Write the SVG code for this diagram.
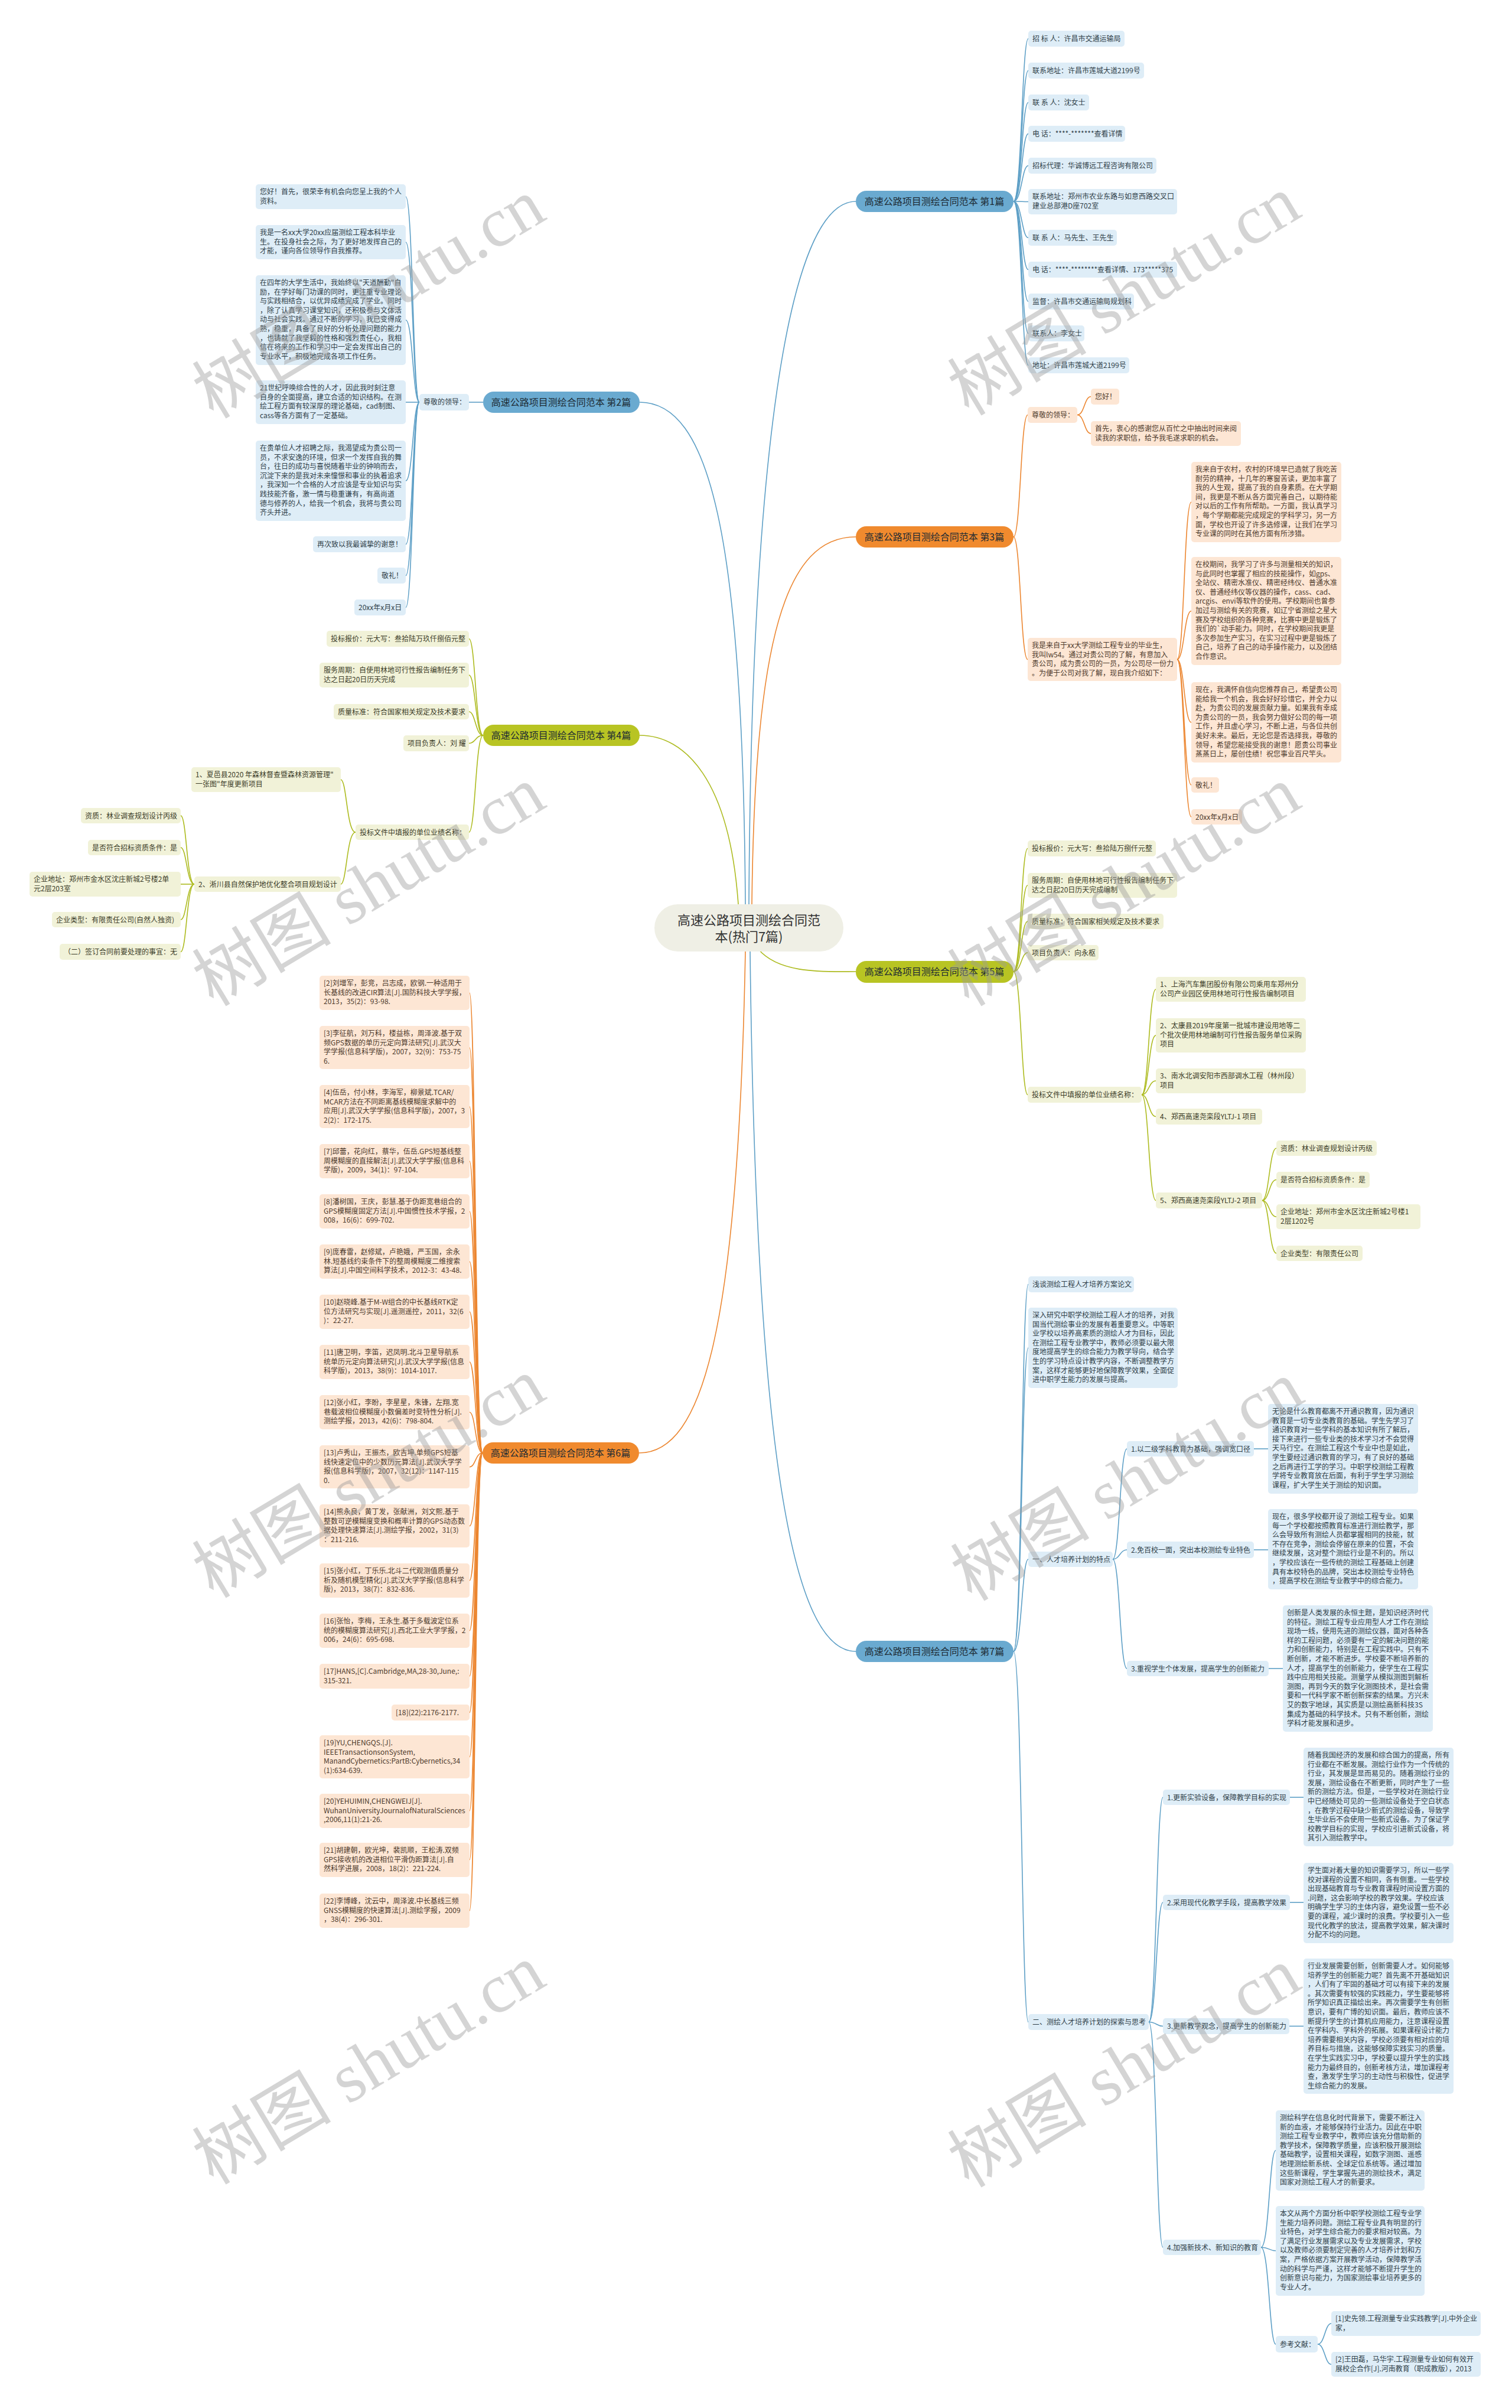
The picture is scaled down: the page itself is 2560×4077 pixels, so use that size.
<svg xmlns="http://www.w3.org/2000/svg" width="2560" height="4077" viewBox="0 0 2560 4077">
<style>
text{font-family:"Noto Sans CJK SC","Liberation Sans",sans-serif;font-size:12px;fill:#333}
.ct{font-size:22px;text-anchor:middle;fill:#333}
.lb{fill:#deedf7}.lo{fill:#fde6d4}.lg{fill:#f1f2d8}
.tb{fill:#2f3e48}.to{fill:#4d3a2c}.tg{fill:#3c3c28}
.mb{fill:#6aaad0}.mo{fill:#f08a2e}.mg{fill:#b8c423}
.mt{font-size:16px;text-anchor:middle;fill:#1d2a33}
.cb{stroke:#5d9fc6;fill:none;stroke-width:1.6}
.co{stroke:#ec8630;fill:none;stroke-width:1.6}
.cg{stroke:#adbb1f;fill:none;stroke-width:1.6}
.wm{font-family:"Liberation Serif","Noto Sans CJK SC",serif;font-size:118px;fill:#9a9a9a;opacity:.42;text-anchor:middle}
</style>
<rect width="2560" height="4077" fill="#ffffff"/>
<g id="connectors">
<path class="cb" d="M1268,1531 C1272,800 1330,341 1449,341"/>
<path class="cb" d="M1262,1531 C1258,900 1200,681 1083,681"/>
<path class="co" d="M1273,1531 C1278,1080 1330,909 1449,909"/>
<path class="cg" d="M1250,1531 C1235,1320 1160,1245 1083,1245"/>
<path class="cg" d="M1284,1607 C1320,1650 1400,1645 1449,1645"/>
<path class="co" d="M1262,1611 C1250,2250 1190,2460 1082,2460"/>
<path class="cb" d="M1270,1611 C1280,2450 1340,2796 1449,2796"/>
<path class="cb" d="M1716,341 C1730,341 1730,65.5 1741,65.5"/>
<path class="cb" d="M1716,341 C1730,341 1730,119.5 1741,119.5"/>
<path class="cb" d="M1716,341 C1730,341 1730,173.5 1741,173.5"/>
<path class="cb" d="M1716,341 C1730,341 1730,226.5 1741,226.5"/>
<path class="cb" d="M1716,341 C1730,341 1730,280.5 1741,280.5"/>
<path class="cb" d="M1716,341 C1730,341 1730,341.5 1741,341.5"/>
<path class="cb" d="M1716,341 C1730,341 1730,402.5 1741,402.5"/>
<path class="cb" d="M1716,341 C1730,341 1730,456.5 1741,456.5"/>
<path class="cb" d="M1716,341 C1730,341 1730,510.5 1741,510.5"/>
<path class="cb" d="M1716,341 C1730,341 1730,564.5 1741,564.5"/>
<path class="cb" d="M1716,341 C1730,341 1730,618.5 1741,618.5"/>
<path class="cb" d="M818,681 L794,681"/>
<path class="cb" d="M710,681 C699,681 699,333 687,333"/>
<path class="cb" d="M710,681 C699,681 699,410 687,410"/>
<path class="cb" d="M710,681 C699,681 699,542 687,542"/>
<path class="cb" d="M710,681 C699,681 699,681 687,681"/>
<path class="cb" d="M710,681 C699,681 699,814 687,814"/>
<path class="cb" d="M710,681 C699,681 699,921.5 687,921.5"/>
<path class="cb" d="M710,681 C699,681 699,974.5 687,974.5"/>
<path class="cb" d="M710,681 C699,681 699,1028.5 687,1028.5"/>
<path class="co" d="M1716,909 C1728,909 1728,702.5 1740,702.5"/>
<path class="co" d="M1716,909 C1728,909 1728,1116.5 1740,1116.5"/>
<path class="co" d="M1824,702.5 C1836,702.5 1836,671.5 1847,671.5"/>
<path class="co" d="M1824,702.5 C1836,702.5 1836,734 1847,734"/>
<path class="co" d="M1993,1116.5 C2005,1116.5 2005,850 2017,850"/>
<path class="co" d="M1993,1116.5 C2005,1116.5 2005,1034.5 2017,1034.5"/>
<path class="co" d="M1993,1116.5 C2005,1116.5 2005,1223 2017,1223"/>
<path class="co" d="M1993,1116.5 C2005,1116.5 2005,1329 2017,1329"/>
<path class="co" d="M1993,1116.5 C2005,1116.5 2005,1383 2017,1383"/>
<path class="cg" d="M818,1245 C805,1245 805,1081.5 794,1081.5"/>
<path class="cg" d="M818,1245 C805,1245 805,1143 794,1143"/>
<path class="cg" d="M818,1245 C805,1245 805,1205 794,1205"/>
<path class="cg" d="M818,1245 C805,1245 805,1258.5 794,1258.5"/>
<path class="cg" d="M818,1245 C805,1245 805,1409 794,1409"/>
<path class="cg" d="M602,1409 C587,1409 587,1320 577,1320"/>
<path class="cg" d="M602,1409 C587,1409 587,1497 577,1497"/>
<path class="cg" d="M329,1497 C316,1497 316,1381 306,1381"/>
<path class="cg" d="M329,1497 C316,1497 316,1435 306,1435"/>
<path class="cg" d="M329,1497 C316,1497 316,1497 306,1497"/>
<path class="cg" d="M329,1497 C316,1497 316,1557 306,1557"/>
<path class="cg" d="M329,1497 C316,1497 316,1611.5 306,1611.5"/>
<path class="cg" d="M1716,1645 C1729,1645 1729,1436.5 1740,1436.5"/>
<path class="cg" d="M1716,1645 C1729,1645 1729,1499 1740,1499"/>
<path class="cg" d="M1716,1645 C1729,1645 1729,1560 1740,1560"/>
<path class="cg" d="M1716,1645 C1729,1645 1729,1613 1740,1613"/>
<path class="cg" d="M1716,1645 C1729,1645 1729,1853.5 1740,1853.5"/>
<path class="cg" d="M1933,1853.5 C1945,1853.5 1945,1675 1957,1675"/>
<path class="cg" d="M1933,1853.5 C1945,1853.5 1945,1753 1957,1753"/>
<path class="cg" d="M1933,1853.5 C1945,1853.5 1945,1830 1957,1830"/>
<path class="cg" d="M1933,1853.5 C1945,1853.5 1945,1890.5 1957,1890.5"/>
<path class="cg" d="M1933,1853.5 C1945,1853.5 1945,2032.5 1957,2032.5"/>
<path class="cg" d="M2137,2032.5 C2149,2032.5 2149,1944 2161,1944"/>
<path class="cg" d="M2137,2032.5 C2149,2032.5 2149,1997.5 2161,1997.5"/>
<path class="cg" d="M2137,2032.5 C2149,2032.5 2149,2060 2161,2060"/>
<path class="cg" d="M2137,2032.5 C2149,2032.5 2149,2122 2161,2122"/>
<path class="co" d="M817,2460 C805,2460 805,1681 795,1681"/>
<path class="co" d="M817,2460 C805,2460 805,1773.7 795,1773.7"/>
<path class="co" d="M817,2460 C805,2460 805,1873.7 795,1873.7"/>
<path class="co" d="M817,2460 C805,2460 805,1966 795,1966"/>
<path class="co" d="M817,2460 C805,2460 805,2051 795,2051"/>
<path class="co" d="M817,2460 C805,2460 805,2136 795,2136"/>
<path class="co" d="M817,2460 C805,2460 805,2221 795,2221"/>
<path class="co" d="M817,2460 C805,2460 805,2306 795,2306"/>
<path class="co" d="M817,2460 C805,2460 805,2391 795,2391"/>
<path class="co" d="M817,2460 C805,2460 805,2483.7 795,2483.7"/>
<path class="co" d="M817,2460 C805,2460 805,2583.7 795,2583.7"/>
<path class="co" d="M817,2460 C805,2460 805,2676 795,2676"/>
<path class="co" d="M817,2460 C805,2460 805,2761 795,2761"/>
<path class="co" d="M817,2460 C805,2460 805,2838 795,2838"/>
<path class="co" d="M817,2460 C805,2460 805,2899.5 795,2899.5"/>
<path class="co" d="M817,2460 C805,2460 805,2974.7 795,2974.7"/>
<path class="co" d="M817,2460 C805,2460 805,3066 795,3066"/>
<path class="co" d="M817,2460 C805,2460 805,3149 795,3149"/>
<path class="co" d="M817,2460 C805,2460 805,3235 795,3235"/>
<path class="cb" d="M1716,2796 C1730,2796 1730,2174.5 1741,2174.5"/>
<path class="cb" d="M1716,2796 C1730,2796 1730,2282 1741,2282"/>
<path class="cb" d="M1716,2796 C1730,2796 1730,2640 1741,2640"/>
<path class="cb" d="M1716,2796 C1730,2796 1730,3423.5 1741,3423.5"/>
<path class="cb" d="M1884,2640 C1896,2640 1896,2453 1908,2453"/>
<path class="cb" d="M1884,2640 C1896,2640 1896,2624 1908,2624"/>
<path class="cb" d="M1884,2640 C1896,2640 1896,2825 1908,2825"/>
<path class="cb" d="M2123,2453 L2147,2453"/>
<path class="cb" d="M2123,2624 L2147,2624"/>
<path class="cb" d="M2148,2825 L2172,2825"/>
<path class="cb" d="M1945,3423.5 C1958,3423.5 1958,3043 1969,3043"/>
<path class="cb" d="M1945,3423.5 C1958,3423.5 1958,3221 1969,3221"/>
<path class="cb" d="M1945,3423.5 C1958,3423.5 1958,3430.5 1969,3430.5"/>
<path class="cb" d="M1945,3423.5 C1958,3423.5 1958,3805 1969,3805"/>
<path class="cb" d="M2184,3043 L2207,3043"/>
<path class="cb" d="M2184,3221 L2207,3221"/>
<path class="cb" d="M2183,3430.5 L2207,3430.5"/>
<path class="cb" d="M2135,3805 C2149,3805 2149,3641 2160,3641"/>
<path class="cb" d="M2135,3805 C2149,3805 2149,3810.7 2160,3810.7"/>
<path class="cb" d="M2135,3805 C2149,3805 2149,3969 2160,3969"/>
<path class="cb" d="M2231,3969 C2243,3969 2243,3934 2254,3934"/>
<path class="cb" d="M2231,3969 C2243,3969 2243,4003 2254,4003"/>
</g>

<g id="center"><rect x="1108" y="1531" width="320" height="80" rx="40" fill="#efefe5"/><text class="ct" x="1268" y="1566">高速公路项目测绘合同范</text><text class="ct" x="1268" y="1594">本(热门7篇)</text></g>

<g id="b1"><rect class="mb" x="1449" y="323" width="267" height="36" rx="18"/><text class="mt" x="1582" y="347">高速公路项目测绘合同范本 第1篇</text></g>
<g id="b1-1"><rect class="lb" x="1741" y="52" width="163" height="27" rx="5"/><text class="tb" x="1748" y="70">招 标 人：许昌市交通运输局</text></g>
<g id="b1-2"><rect class="lb" x="1741" y="106" width="196" height="27" rx="5"/><text class="tb" x="1748" y="124">联系地址：许昌市莲城大道2199号</text></g>
<g id="b1-3"><rect class="lb" x="1741" y="160" width="103" height="27" rx="5"/><text class="tb" x="1748" y="178">联 系 人：沈女士</text></g>
<g id="b1-4"><rect class="lb" x="1741" y="213" width="164" height="27" rx="5"/><text class="tb" x="1748" y="231">电 话：****-*******查看详情</text></g>
<g id="b1-5"><rect class="lb" x="1741" y="267" width="217" height="27" rx="5"/><text class="tb" x="1748" y="285">招标代理：华诚博远工程咨询有限公司</text></g>
<g id="b1-6"><rect class="lb" x="1741" y="320" width="252" height="43" rx="5"/><text class="tb" x="1748" y="337">联系地址：郑州市农业东路与如意西路交叉口<tspan x="1748" dy="15.6">建业总部港D座702室</tspan></text></g>
<g id="b1-7"><rect class="lb" x="1741" y="389" width="150" height="27" rx="5"/><text class="tb" x="1748" y="407">联 系 人：马先生、王先生</text></g>
<g id="b1-8"><rect class="lb" x="1741" y="443" width="252" height="27" rx="5"/><text class="tb" x="1748" y="461">电 话：****-********查看详情、173*****375</text></g>
<g id="b1-9"><rect class="lb" x="1741" y="497" width="179" height="27" rx="5"/><text class="tb" x="1748" y="515">监督：许昌市交通运输局规划科</text></g>
<g id="b1-10"><rect class="lb" x="1741" y="551" width="95" height="27" rx="5"/><text class="tb" x="1748" y="569">联系人：李女士</text></g>
<g id="b1-11"><rect class="lb" x="1741" y="605" width="171" height="27" rx="5"/><text class="tb" x="1748" y="623">地址：许昌市莲城大道2199号</text></g>

<g id="b2"><rect class="mb" x="818" y="663" width="265" height="36" rx="18"/><text class="mt" x="950" y="687">高速公路项目测绘合同范本 第2篇</text></g>
<g id="b2-0"><rect class="lb" x="710" y="667" width="84" height="28" rx="5"/><text class="tb" x="717" y="685">尊敬的领导：</text></g>
<g id="b2-1"><rect class="lb" x="433" y="312" width="254" height="42" rx="5"/><text class="tb" x="440" y="329">您好！首先，很荣幸有机会向您呈上我的个人<tspan x="440" dy="15.6">资料。</tspan></text></g>
<g id="b2-2"><rect class="lb" x="433" y="381" width="254" height="58" rx="5"/><text class="tb" x="440" y="398">我是一名xx大学20xx应届测绘工程本科毕业<tspan x="440" dy="15.6">生。在投身社会之际，为了更好地发挥自己的</tspan><tspan x="440" dy="15.6">才能，谨向各位领导作自我推荐。</tspan></text></g>
<g id="b2-3"><rect class="lb" x="433" y="466" width="254" height="152" rx="5"/><text class="tb" x="440" y="483">在四年的大学生活中，我始终以"天道酬勤"自<tspan x="440" dy="15.6">励，在学好每门功课的同时，更注重专业理论</tspan><tspan x="440" dy="15.6">与实践相结合，以优异成绩完成了学业。同时</tspan><tspan x="440" dy="15.6">，除了认真学习课堂知识，还积极参与文体活</tspan><tspan x="440" dy="15.6">动与社会实践。通过不断的学习，我已变得成</tspan><tspan x="440" dy="15.6">熟，稳重，具备了良好的分析处理问题的能力</tspan><tspan x="440" dy="15.6">，也铸就了我坚毅的性格和强烈责任心，我相</tspan><tspan x="440" dy="15.6">信在将来的工作和学习中一定会发挥出自己的</tspan><tspan x="440" dy="15.6">专业水平，积极地完成各项工作任务。</tspan></text></g>
<g id="b2-4"><rect class="lb" x="433" y="644" width="254" height="74" rx="5"/><text class="tb" x="440" y="661">21世纪呼唤综合性的人才，因此我时刻注意<tspan x="440" dy="15.6">自身的全面提高，建立合适的知识结构。在测</tspan><tspan x="440" dy="15.6">绘工程方面有较深厚的理论基础，cad制图、</tspan><tspan x="440" dy="15.6">cass等各方面有了一定基础。</tspan></text></g>
<g id="b2-5"><rect class="lb" x="433" y="746" width="254" height="136" rx="5"/><text class="tb" x="440" y="763">在贵单位人才招聘之际，我渴望成为贵公司一<tspan x="440" dy="15.6">员，不求安逸的环境，但求一个发挥自我的舞</tspan><tspan x="440" dy="15.6">台，往日的成功与喜悦随着毕业的钟响而去，</tspan><tspan x="440" dy="15.6">沉淀下来的是我对未来憧憬和事业的执着追求</tspan><tspan x="440" dy="15.6">，我深知一个合格的人才应该是专业知识与实</tspan><tspan x="440" dy="15.6">践技能齐备，激一情与稳重谦有，有高尚道</tspan><tspan x="440" dy="15.6">德与修养的人，给我一个机会，我将与贵公司</tspan><tspan x="440" dy="15.6">齐头并进。</tspan></text></g>
<g id="b2-6"><rect class="lb" x="530" y="908" width="157" height="27" rx="5"/><text class="tb" x="537" y="926">再次致以我最诚挚的谢意！</text></g>
<g id="b2-7"><rect class="lb" x="639" y="961" width="48" height="27" rx="5"/><text class="tb" x="646" y="979">敬礼！</text></g>
<g id="b2-8"><rect class="lb" x="600" y="1015" width="87" height="27" rx="5"/><text class="tb" x="607" y="1033">20xx年x月x日</text></g>

<g id="b3"><rect class="mo" x="1449" y="891" width="267" height="36" rx="18"/><text class="mt" x="1582" y="915">高速公路项目测绘合同范本 第3篇</text></g>
<g id="b3-1"><rect class="lo" x="1740" y="689" width="84" height="27" rx="5"/><text class="to" x="1747" y="707">尊敬的领导：</text></g>
<g id="b3-1-1"><rect class="lo" x="1847" y="658" width="48" height="27" rx="5"/><text class="to" x="1854" y="676">您好！</text></g>
<g id="b3-1-2"><rect class="lo" x="1847" y="713" width="254" height="42" rx="5"/><text class="to" x="1854" y="730">首先，衷心的感谢您从百忙之中抽出时间来阅<tspan x="1854" dy="15.6">读我的求职信，给予我毛遂求职的机会。</tspan></text></g>
<g id="b3-2"><rect class="lo" x="1740" y="1080" width="253" height="73" rx="5"/><text class="to" x="1747" y="1097">我是来自于xx大学测绘工程专业的毕业生，<tspan x="1747" dy="15.6">我叫lw54。通过对贵公司的了解，有意加入</tspan><tspan x="1747" dy="15.6">贵公司，成为贵公司的一员，为公司尽一份力</tspan><tspan x="1747" dy="15.6">。为便于公司对我了解，现自我介绍如下：</tspan></text></g>
<g id="b3-2-1"><rect class="lo" x="2017" y="782" width="254" height="136" rx="5"/><text class="to" x="2024" y="799">我来自于农村，农村的环境早已造就了我吃苦<tspan x="2024" dy="15.6">耐劳的精神，十几年的寒窗苦读，更加丰富了</tspan><tspan x="2024" dy="15.6">我的人生观，提高了我的自身素质。在大学期</tspan><tspan x="2024" dy="15.6">间，我更是不断从各方面完善自己，以期待能</tspan><tspan x="2024" dy="15.6">对以后的工作有所帮助。一方面，我认真学习</tspan><tspan x="2024" dy="15.6">，每个学期都能完成规定的学科学习，另一方</tspan><tspan x="2024" dy="15.6">面，学校也开设了许多选修课，让我们在学习</tspan><tspan x="2024" dy="15.6">专业课的同时在其他方面有所涉猎。</tspan></text></g>
<g id="b3-2-2"><rect class="lo" x="2017" y="943" width="254" height="183" rx="5"/><text class="to" x="2024" y="960">在校期间，我学习了许多与测量相关的知识，<tspan x="2024" dy="15.6">与此同时也掌握了相应的技能操作，如gps、</tspan><tspan x="2024" dy="15.6">全站仪、精密水准仪、精密经纬仪、普通水准</tspan><tspan x="2024" dy="15.6">仪、普通经纬仪等仪器的操作，cass、cad、</tspan><tspan x="2024" dy="15.6">arcgis、envi等软件的使用。学校期间也曾参</tspan><tspan x="2024" dy="15.6">加过与测绘有关的竞赛，如辽宁省测绘之星大</tspan><tspan x="2024" dy="15.6">赛及学校组织的各种竞赛，比赛中更是锻炼了</tspan><tspan x="2024" dy="15.6">我们的`动手能力。同时，在学校期间我更是</tspan><tspan x="2024" dy="15.6">多次参加生产实习，在实习过程中更是锻炼了</tspan><tspan x="2024" dy="15.6">自己，培养了自己的动手操作能力，以及团结</tspan><tspan x="2024" dy="15.6">合作意识。</tspan></text></g>
<g id="b3-2-3"><rect class="lo" x="2017" y="1155" width="254" height="136" rx="5"/><text class="to" x="2024" y="1172">现在，我满怀自信向您推荐自己，希望贵公司<tspan x="2024" dy="15.6">能给我一个机会，我会好好珍惜它，并全力以</tspan><tspan x="2024" dy="15.6">赴，为贵公司的发展贡献力量。如果我有幸成</tspan><tspan x="2024" dy="15.6">为贵公司的一员，我会努力做好公司的每一项</tspan><tspan x="2024" dy="15.6">工作，并且虚心学习，不断上进，与各位共创</tspan><tspan x="2024" dy="15.6">美好未来。最后，无论您是否选择我，尊敬的</tspan><tspan x="2024" dy="15.6">领导，希望您能接受我的谢意！愿贵公司事业</tspan><tspan x="2024" dy="15.6">蒸蒸日上，屡创佳绩！祝您事业百尺竿头。</tspan></text></g>
<g id="b3-2-4"><rect class="lo" x="2017" y="1316" width="47" height="26" rx="5"/><text class="to" x="2024" y="1334">敬礼！</text></g>
<g id="b3-2-5"><rect class="lo" x="2017" y="1370" width="86" height="26" rx="5"/><text class="to" x="2024" y="1388">20xx年x月x日</text></g>

<g id="b4"><rect class="mg" x="818" y="1227" width="265" height="36" rx="18"/><text class="mt" x="950" y="1251">高速公路项目测绘合同范本 第4篇</text></g>
<g id="b4-1"><rect class="lg" x="553" y="1068" width="241" height="27" rx="5"/><text class="tg" x="560" y="1086">投标报价：元大写：叁拾陆万玖仟捌佰元整</text></g>
<g id="b4-2"><rect class="lg" x="541" y="1122" width="253" height="42" rx="5"/><text class="tg" x="548" y="1139">服务周期：自使用林地可行性报告编制任务下<tspan x="548" dy="15.6">达之日起20日历天完成</tspan></text></g>
<g id="b4-3"><rect class="lg" x="565" y="1192" width="229" height="26" rx="5"/><text class="tg" x="572" y="1210">质量标准：符合国家相关规定及技术要求</text></g>
<g id="b4-4"><rect class="lg" x="683" y="1245" width="111" height="27" rx="5"/><text class="tg" x="690" y="1263">项目负责人：刘 耀</text></g>
<g id="b4-5"><rect class="lg" x="602" y="1396" width="192" height="26" rx="5"/><text class="tg" x="609" y="1414">投标文件中填报的单位业绩名称：</text></g>
<g id="b4-5-1"><rect class="lg" x="324" y="1299" width="253" height="42" rx="5"/><text class="tg" x="331" y="1316">1、夏邑县2020 年森林督查暨森林资源管理"<tspan x="331" dy="15.6">一张图"年度更新项目</tspan></text></g>
<g id="b4-5-2"><rect class="lg" x="329" y="1484" width="248" height="26" rx="5"/><text class="tg" x="336" y="1502">2、淅川县自然保护地优化整合项目规划设计</text></g>
<g id="b4-5-2-1"><rect class="lg" x="137" y="1368" width="169" height="26" rx="5"/><text class="tg" x="144" y="1386">资质：林业调查规划设计丙级</text></g>
<g id="b4-5-2-2"><rect class="lg" x="149" y="1422" width="157" height="26" rx="5"/><text class="tg" x="156" y="1440">是否符合招标资质条件：是</text></g>
<g id="b4-5-2-3"><rect class="lg" x="50" y="1476" width="256" height="42" rx="5"/><text class="tg" x="57" y="1493">企业地址：郑州市金水区沈庄新城2号楼2单<tspan x="57" dy="15.6">元2层203室</tspan></text></g>
<g id="b4-5-2-4"><rect class="lg" x="88" y="1544" width="218" height="26" rx="5"/><text class="tg" x="95" y="1562">企业类型：有限责任公司(自然人独资)</text></g>
<g id="b4-5-2-5"><rect class="lg" x="101" y="1598" width="205" height="27" rx="5"/><text class="tg" x="108" y="1616">（二）签订合同前要处理的事宜：无</text></g>

<g id="b5"><rect class="mg" x="1449" y="1627" width="267" height="37" rx="18"/><text class="mt" x="1582" y="1651">高速公路项目测绘合同范本 第5篇</text></g>
<g id="b5-1"><rect class="lg" x="1740" y="1423" width="217" height="27" rx="5"/><text class="tg" x="1747" y="1441">投标报价：元大写：叁拾陆万捌仟元整</text></g>
<g id="b5-2"><rect class="lg" x="1740" y="1478" width="253" height="42" rx="5"/><text class="tg" x="1747" y="1495">服务周期：自使用林地可行性报告编制任务下<tspan x="1747" dy="15.6">达之日起20日历天完成编制</tspan></text></g>
<g id="b5-3"><rect class="lg" x="1740" y="1547" width="230" height="26" rx="5"/><text class="tg" x="1747" y="1565">质量标准：符合国家相关规定及技术要求</text></g>
<g id="b5-4"><rect class="lg" x="1740" y="1600" width="120" height="26" rx="5"/><text class="tg" x="1747" y="1618">项目负责人：向永枢</text></g>
<g id="b5-5"><rect class="lg" x="1740" y="1840" width="193" height="27" rx="5"/><text class="tg" x="1747" y="1858">投标文件中填报的单位业绩名称：</text></g>
<g id="b5-5-1"><rect class="lg" x="1957" y="1654" width="254" height="42" rx="5"/><text class="tg" x="1964" y="1671">1、上海汽车集团股份有限公司乘用车郑州分<tspan x="1964" dy="15.6">公司产业园区使用林地可行性报告编制项目</tspan></text></g>
<g id="b5-5-2"><rect class="lg" x="1957" y="1724" width="254" height="58" rx="5"/><text class="tg" x="1964" y="1741">2、太康县2019年度第一批城市建设用地等二<tspan x="1964" dy="15.6">个批次使用林地编制可行性报告服务单位采购</tspan><tspan x="1964" dy="15.6">项目</tspan></text></g>
<g id="b5-5-3"><rect class="lg" x="1957" y="1809" width="254" height="42" rx="5"/><text class="tg" x="1964" y="1826">3、南水北调安阳市西部调水工程（林州段）<tspan x="1964" dy="15.6">项目</tspan></text></g>
<g id="b5-5-4"><rect class="lg" x="1957" y="1877" width="180" height="27" rx="5"/><text class="tg" x="1964" y="1895">4、郑西高速尧栾段YLTJ-1 项目</text></g>
<g id="b5-5-5"><rect class="lg" x="1957" y="2019" width="180" height="27" rx="5"/><text class="tg" x="1964" y="2037">5、郑西高速尧栾段YLTJ-2 项目</text></g>
<g id="b5-5-5-1"><rect class="lg" x="2161" y="1931" width="170" height="26" rx="5"/><text class="tg" x="2168" y="1949">资质：林业调查规划设计丙级</text></g>
<g id="b5-5-5-2"><rect class="lg" x="2161" y="1984" width="158" height="27" rx="5"/><text class="tg" x="2168" y="2002">是否符合招标资质条件：是</text></g>
<g id="b5-5-5-3"><rect class="lg" x="2161" y="2039" width="244" height="42" rx="5"/><text class="tg" x="2168" y="2056">企业地址：郑州市金水区沈庄新城2号楼1<tspan x="2168" dy="15.6">2层1202号</tspan></text></g>
<g id="b5-5-5-4"><rect class="lg" x="2161" y="2109" width="146" height="26" rx="5"/><text class="tg" x="2168" y="2127">企业类型：有限责任公司</text></g>

<g id="b6"><rect class="mo" x="817" y="2442" width="265" height="36" rx="18"/><text class="mt" x="949" y="2466">高速公路项目测绘合同范本 第6篇</text></g>
<g id="b6-2"><rect class="lo" x="541" y="1652" width="254" height="58" rx="5"/><text class="to" x="548" y="1669">[2]刘增军，彭竞，吕志成，欧钢.一种适用于<tspan x="548" dy="15.6">长基线的改进CIR算法[J].国防科技大学学报，</tspan><tspan x="548" dy="15.6">2013，35(2)：93-98.</tspan></text></g>
<g id="b6-3"><rect class="lo" x="541" y="1737" width="254" height="73" rx="5"/><text class="to" x="548" y="1754">[3]李征航，刘万科，楼益栋，周泽波.基于双<tspan x="548" dy="15.6">频GPS数据的单历元定向算法研究[J].武汉大</tspan><tspan x="548" dy="15.6">学学报(信息科学版)，2007，32(9)：753-75</tspan><tspan x="548" dy="15.6">6.</tspan></text></g>
<g id="b6-4"><rect class="lo" x="541" y="1837" width="254" height="73" rx="5"/><text class="to" x="548" y="1854">[4]伍岳，付小林，李海军，柳景斌.TCAR/<tspan x="548" dy="15.6">MCAR方法在不同距离基线模糊度求解中的</tspan><tspan x="548" dy="15.6">应用[J].武汉大学学报(信息科学版)，2007，3</tspan><tspan x="548" dy="15.6">2(2)：172-175.</tspan></text></g>
<g id="b6-7"><rect class="lo" x="541" y="1937" width="254" height="58" rx="5"/><text class="to" x="548" y="1954">[7]邱蕾，花向红，蔡华，伍岳.GPS短基线整<tspan x="548" dy="15.6">周模糊度的直接解法[J].武汉大学学报(信息科</tspan><tspan x="548" dy="15.6">学版)，2009，34(1)：97-104.</tspan></text></g>
<g id="b6-8"><rect class="lo" x="541" y="2022" width="254" height="58" rx="5"/><text class="to" x="548" y="2039">[8]潘树国，王庆，彭慧.基于伪距宽巷组合的<tspan x="548" dy="15.6">GPS模糊度固定方法[J].中国惯性技术学报，2</tspan><tspan x="548" dy="15.6">008，16(6)：699-702.</tspan></text></g>
<g id="b6-9"><rect class="lo" x="541" y="2107" width="254" height="58" rx="5"/><text class="to" x="548" y="2124">[9]庞春雷，赵修斌，卢艳娥，严玉国，余永<tspan x="548" dy="15.6">林.短基线约束条件下的整周模糊度二维搜索</tspan><tspan x="548" dy="15.6">算法[J].中国空间科学技术，2012-3：43-48.</tspan></text></g>
<g id="b6-10"><rect class="lo" x="541" y="2192" width="254" height="58" rx="5"/><text class="to" x="548" y="2209">[10]赵晓峰.基于M-W组合的中长基线RTK定<tspan x="548" dy="15.6">位方法研究与实现[J].遥测遥控，2011，32(6</tspan><tspan x="548" dy="15.6">)：22-27.</tspan></text></g>
<g id="b6-11"><rect class="lo" x="541" y="2277" width="254" height="58" rx="5"/><text class="to" x="548" y="2294">[11]唐卫明，李笛，迟凤明.北斗卫星导航系<tspan x="548" dy="15.6">统单历元定向算法研究[J].武汉大学学报(信息</tspan><tspan x="548" dy="15.6">科学版)，2013，38(9)：1014-1017.</tspan></text></g>
<g id="b6-12"><rect class="lo" x="541" y="2362" width="254" height="58" rx="5"/><text class="to" x="548" y="2379">[12]张小红，李盼，李星星，朱锋，左翔.宽<tspan x="548" dy="15.6">巷载波相位模糊度小数偏差时变特性分析[J].</tspan><tspan x="548" dy="15.6">测绘学报，2013，42(6)：798-804.</tspan></text></g>
<g id="b6-13"><rect class="lo" x="541" y="2447" width="254" height="73" rx="5"/><text class="to" x="548" y="2464">[13]卢秀山，王振杰，欧吉坤.单频GPS短基<tspan x="548" dy="15.6">线快速定位中的少数历元算法[J].武汉大学学</tspan><tspan x="548" dy="15.6">报(信息科学版)，2007，32(12)：1147-115</tspan><tspan x="548" dy="15.6">0.</tspan></text></g>
<g id="b6-14"><rect class="lo" x="541" y="2547" width="254" height="73" rx="5"/><text class="to" x="548" y="2564">[14]熊永良，黄丁发，张献洲，刘文熙.基于<tspan x="548" dy="15.6">整数可逆模糊度变换和概率计算的GPS动态数</tspan><tspan x="548" dy="15.6">据处理快速算法[J].测绘学报，2002，31(3)</tspan><tspan x="548" dy="15.6">：211-216.</tspan></text></g>
<g id="b6-15"><rect class="lo" x="541" y="2647" width="254" height="58" rx="5"/><text class="to" x="548" y="2664">[15]张小红，丁乐乐.北斗二代观测值质量分<tspan x="548" dy="15.6">析及随机模型精化[J].武汉大学学报(信息科学</tspan><tspan x="548" dy="15.6">版)，2013，38(7)：832-836.</tspan></text></g>
<g id="b6-16"><rect class="lo" x="541" y="2732" width="254" height="58" rx="5"/><text class="to" x="548" y="2749">[16]张怡，李梅，王永生.基于多载波定位系<tspan x="548" dy="15.6">统的模糊度算法研究[J].西北工业大学学报，2</tspan><tspan x="548" dy="15.6">006，24(6)：695-698.</tspan></text></g>
<g id="b6-17"><rect class="lo" x="541" y="2817" width="254" height="42" rx="5"/><text class="to" x="548" y="2834">[17]HANS,[C].Cambridge,MA,28-30,June,:<tspan x="548" dy="15.6">315-321.</tspan></text></g>
<g id="b6-18"><rect class="lo" x="663" y="2886" width="132" height="27" rx="5"/><text class="to" x="670" y="2904">[18](22):2176-2177.</text></g>
<g id="b6-19"><rect class="lo" x="541" y="2938" width="254" height="73" rx="5"/><text class="to" x="548" y="2955">[19]YU,CHENGQS.[J].<tspan x="548" dy="15.6">IEEETransactionsonSystem,</tspan><tspan x="548" dy="15.6">ManandCybernetics:PartB:Cybernetics,34</tspan><tspan x="548" dy="15.6">(1):634-639.</tspan></text></g>
<g id="b6-20"><rect class="lo" x="541" y="3037" width="254" height="58" rx="5"/><text class="to" x="548" y="3054">[20]YEHUIMIN,CHENGWEIJ[J].<tspan x="548" dy="15.6">WuhanUniversityJournalofNaturalSciences</tspan><tspan x="548" dy="15.6">,2006,11(1):21-26.</tspan></text></g>
<g id="b6-21"><rect class="lo" x="541" y="3120" width="254" height="58" rx="5"/><text class="to" x="548" y="3137">[21]胡建朝，欧光坤，裴凯顺，王松涛.双频<tspan x="548" dy="15.6">GPS接收机的改进相位平滑伪距算法[J].自</tspan><tspan x="548" dy="15.6">然科学进展，2008，18(2)：221-224.</tspan></text></g>
<g id="b6-22"><rect class="lo" x="541" y="3206" width="254" height="58" rx="5"/><text class="to" x="548" y="3223">[22]李博峰，沈云中，周泽波.中长基线三频<tspan x="548" dy="15.6">GNSS模糊度的快速算法[J].测绘学报，2009</tspan><tspan x="548" dy="15.6">，38(4)：296-301.</tspan></text></g>

<g id="b7"><rect class="mb" x="1449" y="2778" width="267" height="36" rx="18"/><text class="mt" x="1582" y="2802">高速公路项目测绘合同范本 第7篇</text></g>
<g id="b7-1"><rect class="lb" x="1741" y="2161" width="179" height="27" rx="5"/><text class="tb" x="1748" y="2179">浅谈测绘工程人才培养方案论文</text></g>
<g id="b7-2"><rect class="lb" x="1741" y="2214" width="253" height="136" rx="5"/><text class="tb" x="1748" y="2231">深入研究中职学校测绘工程人才的培养，对我<tspan x="1748" dy="15.6">国当代测绘事业的发展有着重要意义。中等职</tspan><tspan x="1748" dy="15.6">业学校以培养高素质的测绘人才为目标，因此</tspan><tspan x="1748" dy="15.6">在测绘工程专业教学中，教师必须要以最大限</tspan><tspan x="1748" dy="15.6">度地提高学生的综合能力为教学导向，结合学</tspan><tspan x="1748" dy="15.6">生的学习特点设计教学内容，不断调整教学方</tspan><tspan x="1748" dy="15.6">案，这样才能够更好地保障教学效果，全面促</tspan><tspan x="1748" dy="15.6">进中职学生能力的发展与提高。</tspan></text></g>
<g id="b7-3"><rect class="lb" x="1741" y="2627" width="143" height="26" rx="5"/><text class="tb" x="1748" y="2645">一、人才培养计划的特点</text></g>
<g id="b7-3-1"><rect class="lb" x="1908" y="2440" width="215" height="26" rx="5"/><text class="tb" x="1915" y="2458">1.以二级学科教育为基础，强调宽口径</text></g>
<g id="b7-3-1-1"><rect class="lb" x="2147" y="2377" width="254" height="152" rx="5"/><text class="tb" x="2154" y="2394">无论是什么教育都离不开通识教育，因为通识<tspan x="2154" dy="15.6">教育是一切专业类教育的基础。学生先学习了</tspan><tspan x="2154" dy="15.6">通识教育对一些学科的基本知识有所了解后，</tspan><tspan x="2154" dy="15.6">接下来进行一些专业类的技术学习才不会觉得</tspan><tspan x="2154" dy="15.6">天马行空。在测绘工程这个专业中也是如此，</tspan><tspan x="2154" dy="15.6">学生要经过通识教育的学习，有了良好的基础</tspan><tspan x="2154" dy="15.6">之后再进行工学的学习。中职学校测绘工程教</tspan><tspan x="2154" dy="15.6">学将专业教育放在后面，有利于学生学习测绘</tspan><tspan x="2154" dy="15.6">课程，扩大学生关于测绘的知识面。</tspan></text></g>
<g id="b7-3-2"><rect class="lb" x="1908" y="2610" width="215" height="28" rx="5"/><text class="tb" x="1915" y="2629">2.免百校一面，突出本校测绘专业特色</text></g>
<g id="b7-3-2-1"><rect class="lb" x="2147" y="2555" width="254" height="136" rx="5"/><text class="tb" x="2154" y="2572">现在，很多学校都开设了测绘工程专业。如果<tspan x="2154" dy="15.6">每一个学校都按照教育标准进行测绘教学，那</tspan><tspan x="2154" dy="15.6">么会导致所有测绘人员都掌握相同的技能，就</tspan><tspan x="2154" dy="15.6">不存在竞争，测绘会停留在原来的位置，不会</tspan><tspan x="2154" dy="15.6">继续发展，这对整个测绘行业是不利的。所以</tspan><tspan x="2154" dy="15.6">，学校应该在一些传统的测绘工程基础上创建</tspan><tspan x="2154" dy="15.6">具有本校特色的品牌，突出本校测绘专业特色</tspan><tspan x="2154" dy="15.6">，提高学校在测绘专业教学中的综合能力。</tspan></text></g>
<g id="b7-3-3"><rect class="lb" x="1908" y="2812" width="240" height="26" rx="5"/><text class="tb" x="1915" y="2830">3.重视学生个体发展，提高学生的创新能力</text></g>
<g id="b7-3-3-1"><rect class="lb" x="2172" y="2718" width="254" height="214" rx="5"/><text class="tb" x="2179" y="2735">创新是人类发展的永恒主题，是知识经济时代<tspan x="2179" dy="15.6">的特征。测绘工程专业应用型人才工作在测绘</tspan><tspan x="2179" dy="15.6">现场一线，使用先进的测绘仪器，面对各种各</tspan><tspan x="2179" dy="15.6">样的工程问题，必须要有一定的解决问题的能</tspan><tspan x="2179" dy="15.6">力和创新能力，特别是在工程实践中。只有不</tspan><tspan x="2179" dy="15.6">断创新，才能不断进步。学校要不断培养新的</tspan><tspan x="2179" dy="15.6">人才，提高学生的创新能力，使学生在工程实</tspan><tspan x="2179" dy="15.6">践中应用相关技能。测量学从模拟测图到解析</tspan><tspan x="2179" dy="15.6">测图，再到今天的数字化测图技术，是社会需</tspan><tspan x="2179" dy="15.6">要和一代科学家不断创新探索的结果。方兴未</tspan><tspan x="2179" dy="15.6">艾的数字地球，其实质是以测绘高新科技3S</tspan><tspan x="2179" dy="15.6">集成为基础的科学技术。只有不断创新，测绘</tspan><tspan x="2179" dy="15.6">学科才能发展和进步。</tspan></text></g>
<g id="b7-4"><rect class="lb" x="1741" y="3410" width="204" height="27" rx="5"/><text class="tb" x="1748" y="3428">二、测绘人才培养计划的探索与思考</text></g>
<g id="b7-4-1"><rect class="lb" x="1969" y="3030" width="215" height="26" rx="5"/><text class="tb" x="1976" y="3048">1.更新实验设备，保障教学目标的实现</text></g>
<g id="b7-4-1-1"><rect class="lb" x="2207" y="2959" width="254" height="167" rx="5"/><text class="tb" x="2214" y="2976">随着我国经济的发展和综合国力的提高，所有<tspan x="2214" dy="15.6">行业都在不断发展。测绘行业作为一个传统的</tspan><tspan x="2214" dy="15.6">行业，其发展是显而易见的。随着测绘行业的</tspan><tspan x="2214" dy="15.6">发展，测绘设备在不断更新，同时产生了一些</tspan><tspan x="2214" dy="15.6">新的测绘方法。但是，一些学校对在测绘行业</tspan><tspan x="2214" dy="15.6">中已经随处可见的一些测绘设备处于空白状态</tspan><tspan x="2214" dy="15.6">，在教学过程中缺少新式的测绘设备，导致学</tspan><tspan x="2214" dy="15.6">生毕业后不会使用一些新式设备。为了保证学</tspan><tspan x="2214" dy="15.6">校教学目标的实现，学校应引进新式设备，将</tspan><tspan x="2214" dy="15.6">其引入测绘教学中。</tspan></text></g>
<g id="b7-4-2"><rect class="lb" x="1969" y="3208" width="215" height="26" rx="5"/><text class="tb" x="1976" y="3226">2.采用现代化教学手段，提高教学效果</text></g>
<g id="b7-4-2-1"><rect class="lb" x="2207" y="3154" width="254" height="136" rx="5"/><text class="tb" x="2214" y="3171">学生面对着大量的知识需要学习，所以一些学<tspan x="2214" dy="15.6">校对课程的设置不相同，各有侧重。一些学校</tspan><tspan x="2214" dy="15.6">出现基础教育与专业教育课程时间设置方面的</tspan><tspan x="2214" dy="15.6">.问题，这会影响学校的教学效果。学校应该</tspan><tspan x="2214" dy="15.6">明确学生学习的主体内容，避免设置一些不必</tspan><tspan x="2214" dy="15.6">要的课程，减少课时的浪费。学校要引入一些</tspan><tspan x="2214" dy="15.6">现代化教学的放法，提高教学效果，解决课时</tspan><tspan x="2214" dy="15.6">分配不均的问题。</tspan></text></g>
<g id="b7-4-3"><rect class="lb" x="1969" y="3417" width="214" height="27" rx="5"/><text class="tb" x="1976" y="3435">3.更新教学观念，提高学生的创新能力</text></g>
<g id="b7-4-3-1"><rect class="lb" x="2207" y="3316" width="254" height="229" rx="5"/><text class="tb" x="2214" y="3333">行业发展需要创新，创新需要人才。如何能够<tspan x="2214" dy="15.6">培养学生的创新能力呢？首先离不开基础知识</tspan><tspan x="2214" dy="15.6">，人们有了牢固的基础才可以有接下来的发展</tspan><tspan x="2214" dy="15.6">。其次需要有较强的实践能力，学生要能够将</tspan><tspan x="2214" dy="15.6">所学知识真正描绘出来。再次需要学生有创新</tspan><tspan x="2214" dy="15.6">意识，要有广博的知识面。最后，教师应该不</tspan><tspan x="2214" dy="15.6">断提升学生的计算机应用能力，注意课程设置</tspan><tspan x="2214" dy="15.6">在学科内、学科外的拓展。如果课程设计能力</tspan><tspan x="2214" dy="15.6">培养需要相关内容，学校必须要有相对应的培</tspan><tspan x="2214" dy="15.6">养目标与措施，这能够保障实践实习的质量。</tspan><tspan x="2214" dy="15.6">在学生实践实习中，学校要以提升学生的实践</tspan><tspan x="2214" dy="15.6">能力为最终目的，创新考核方法，增加课程考</tspan><tspan x="2214" dy="15.6">查，激发学生学习的主动性与积极性，促进学</tspan><tspan x="2214" dy="15.6">生综合能力的发展。</tspan></text></g>
<g id="b7-4-4"><rect class="lb" x="1969" y="3792" width="166" height="26" rx="5"/><text class="tb" x="1976" y="3810">4.加强新技术、新知识的教育</text></g>
<g id="b7-4-4-1"><rect class="lb" x="2160" y="3573" width="252" height="136" rx="5"/><text class="tb" x="2167" y="3590">测绘科学在信息化时代背景下，需要不断注入<tspan x="2167" dy="15.6">新的血液，才能够保持行业活力。因此在中职</tspan><tspan x="2167" dy="15.6">测绘工程专业教学中，教师应该充分借助新的</tspan><tspan x="2167" dy="15.6">教学技术，保障教学质量，应该积极开展测绘</tspan><tspan x="2167" dy="15.6">基础教学，设置相关课程，如数字测图、遥感</tspan><tspan x="2167" dy="15.6">地理测绘新系统、全球定位系统等。通过增加</tspan><tspan x="2167" dy="15.6">这些新课程，学生掌握先进的测绘技术，满足</tspan><tspan x="2167" dy="15.6">国家对测绘工程人才的新要求。</tspan></text></g>
<g id="b7-4-4-2"><rect class="lb" x="2160" y="3735" width="252" height="152" rx="5"/><text class="tb" x="2167" y="3752">本文从两个方面分析中职学校测绘工程专业学<tspan x="2167" dy="15.6">生能力培养问题。测绘工程专业具有明显的行</tspan><tspan x="2167" dy="15.6">业特色，对学生综合能力的要求相对较高。为</tspan><tspan x="2167" dy="15.6">了满足行业发展需求以及专业发展需求，学校</tspan><tspan x="2167" dy="15.6">以及教师必须要制定完善的人才培养计划和方</tspan><tspan x="2167" dy="15.6">案，严格依据方案开展教学活动，保障教学活</tspan><tspan x="2167" dy="15.6">动的科学与严谨，这样才能够不断提升学生的</tspan><tspan x="2167" dy="15.6">创新意识与能力，为国家测绘事业培养更多的</tspan><tspan x="2167" dy="15.6">专业人才。</tspan></text></g>
<g id="b7-4-4-3"><rect class="lb" x="2160" y="3955" width="71" height="28" rx="5"/><text class="tb" x="2167" y="3974">参考文献：</text></g>
<g id="b7-4-4-3-1"><rect class="lb" x="2254" y="3913" width="253" height="42" rx="5"/><text class="tb" x="2261" y="3930">[1]史先领.工程测量专业实践教学[J].中外企业<tspan x="2261" dy="15.6">家，</tspan></text></g>
<g id="b7-4-4-3-2"><rect class="lb" x="2254" y="3982" width="253" height="42" rx="5"/><text class="tb" x="2261" y="3999">[2]王田磊，马华宇.工程测量专业如何有效开<tspan x="2261" dy="15.6">展校企合作[J].河南教育（职成教版），2013</tspan></text></g>

<g id="watermark">
<text class="wm" transform="translate(645,540) rotate(-31)">树图 shutu.cn</text>
<text class="wm" transform="translate(1924,535) rotate(-31)">树图 shutu.cn</text>
<text class="wm" transform="translate(645,1535) rotate(-31)">树图 shutu.cn</text>
<text class="wm" transform="translate(1924,1535) rotate(-31)">树图 shutu.cn</text>
<text class="wm" transform="translate(645,2537) rotate(-31)">树图 shutu.cn</text>
<text class="wm" transform="translate(1929,2542) rotate(-31)">树图 shutu.cn</text>
<text class="wm" transform="translate(645,3530) rotate(-31)">树图 shutu.cn</text>
<text class="wm" transform="translate(1924,3535) rotate(-31)">树图 shutu.cn</text>
</g>
</svg>
